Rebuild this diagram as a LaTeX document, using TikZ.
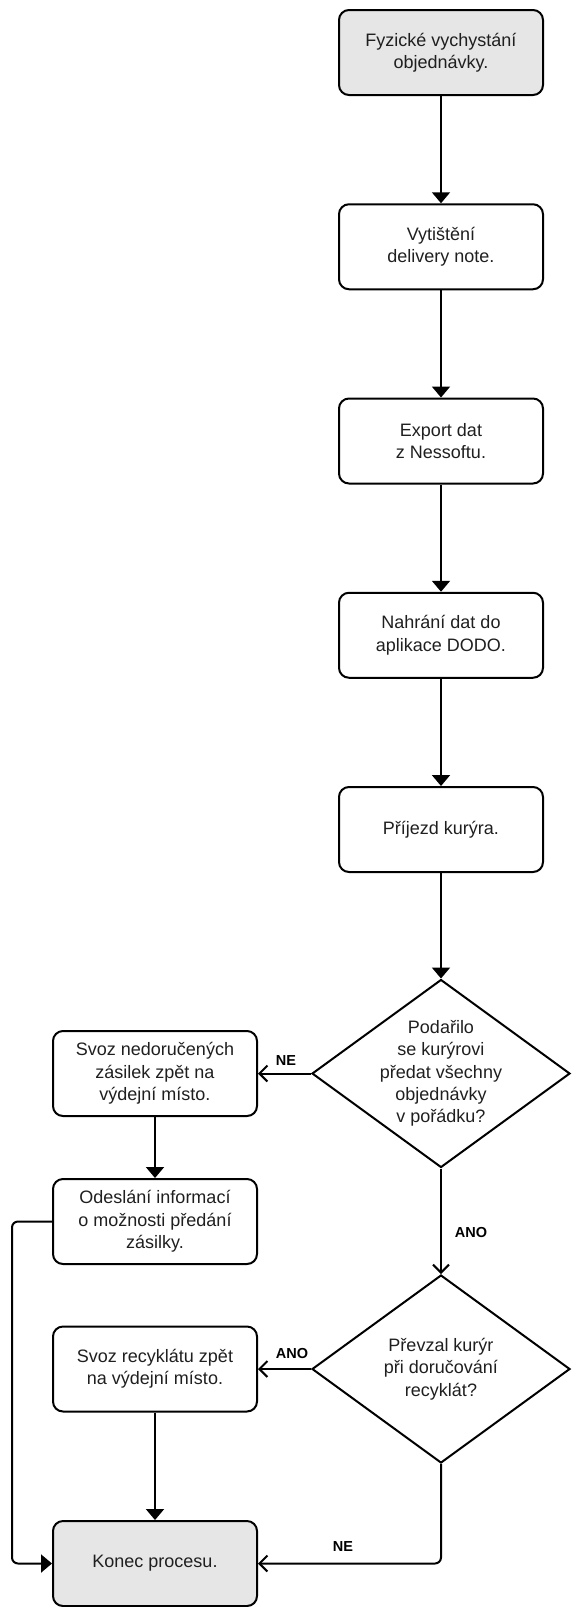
\documentclass[tikz,border=0pt]{standalone}
\usepackage{fontspec}
\setmainfont{Liberation Sans}
\usetikzlibrary{shapes.geometric,arrows.meta}

\definecolor{termgray}{RGB}{230,230,230}

\begin{document}
\begin{tikzpicture}[x=1pt,y=1pt]
        \tikzstyle{every node}+=[font=\fontsize{18}{22.3}\selectfont, text=black!88]
        \tikzstyle{proc}=[draw=black, line width=2pt, rounded corners=10pt, minimum width=204, minimum height=85, inner sep=0pt, align=center]
        \tikzstyle{term}=[proc, fill=termgray]
        \tikzstyle{decision}=[draw=black, line width=2pt, diamond, minimum width=258, minimum height=188, inner sep=0pt]
        \tikzstyle{answer}=[font=\bfseries\fontsize{14.5}{17}\selectfont, text=black]
        \tikzstyle{flow}=[draw=black, line width=2pt, -{Triangle[width=18pt,length=11pt]}]
        \tikzstyle{branch}=[draw=black, line width=2pt, -{Straight Barb[width=16pt,length=8pt]}]
        \useasboundingbox (0,0) rectangle (573,-1607);
        \node [term] (start) at (441,-52.5) {Fyzické vychystání\\objednávky.};
        \node [proc] (tisk) at (441,-246.75) {Vytištění\\delivery note.};
        \node [proc] (export) at (441,-441) {Export dat\\z Nessoftu.};
        \node [proc] (nahrani) at (441,-635.25) {Nahrání dat do\\aplikace DODO.};
        \node [proc] (prijezd) at (441,-829.5) {Příjezd kurýra.};
        \node [decision, label={[align=center]center:Podařilo\\se kurýrovi\\předat všechny\\objednávky\\v pořádku?}] (predano) at (441,-1073.5) {};
        \node [decision, label={[align=center]center:Převzal kurýr\\při doručování\\recyklát?}] (prevzal) at (441,-1369) {};
        \node [proc] (svozned) at (155,-1073.5) {Svoz nedoručených\\zásilek zpět na\\výdejní místo.};
        \node [proc] (odeslani) at (155,-1221.5) {Odeslání informací\\o možnosti předání\\zásilky.};
        \node [proc] (svozrec) at (155,-1369) {Svoz recyklátu zpět\\na výdejní místo.};
        \node [term] (konec) at (155,-1563.5) {Konec procesu.};
        \node [answer] (ne1) at (286,-1060) {NE};
        \node [answer] (ano1) at (471,-1232) {ANO};
        \node [answer] (ano2) at (292,-1353) {ANO};
        \node [answer] (ne2) at (343,-1546) {NE};
        \draw [flow] (start) -- (tisk);
        \draw [flow] (tisk) -- (export);
        \draw [flow] (export) -- (nahrani);
        \draw [flow] (nahrani) -- (prijezd);
        \draw [flow] (prijezd) -- (predano);
        \draw [branch] (predano.west) -- (svozned.east);
        \draw [flow] (svozned) -- (odeslani);
        \draw [branch] (predano.south) -- (prevzal.north);
        \draw [branch] (prevzal.west) -- (svozrec.east);
        \draw [flow] (svozrec) -- (konec);
        \draw [flow, rounded corners=6pt] (odeslani.west) -- ++(-40,0) |- (konec.west);
        \draw [branch, rounded corners=6pt] (prevzal.south) |- (konec.east);
\end{tikzpicture}
\end{document}
